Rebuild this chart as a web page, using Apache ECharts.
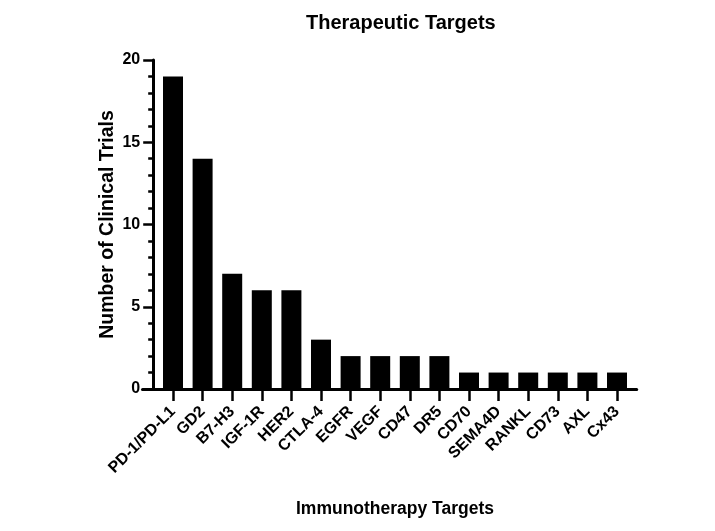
<!DOCTYPE html>
<html>
<head>
<meta charset="utf-8">
<script src="https://cdn.jsdelivr.net/npm/echarts@6/dist/echarts.min.js"></script>
<style>html,body{margin:0;padding:0;background:#fff;}#c{width:715px;height:531px;}</style>
</head>
<body>
<div id="c"></div>
<script>
const categories = ["PD-1/PD-L1","GD2","B7-H3","IGF-1R","HER2","CTLA-4","EGFR","VEGF","CD47","DR5","CD70","SEMA4D","RANKL","CD73","AXL","Cx43"];
const trials = [19,14,7,6,6,3,2,2,2,2,1,1,1,1,1,1];
const yTicks = [0,5,10,15,20];

const FONT = "'Liberation Sans', Arial, Helvetica, sans-serif";
const chart = echarts.init(document.getElementById('c'), null, {renderer:'canvas'});
chart.setOption({
  animation: false,
  backgroundColor: '#ffffff',
  title: {
    text: 'Therapeutic Targets',
    left: 301, top: 8,
    textStyle: {fontFamily: FONT, fontWeight: 'bold', fontSize: 20, color: '#000'}
  },
  grid: [
    {left: 158.2, right: 83.2, top: 60, bottom: 142, containLabel: false},
    {left: 142.5, right: 78.3, top: 60, bottom: 142, containLabel: false}
  ],
  xAxis: [
    {
      type: 'category', gridIndex: 0, data: categories,
      axisLine: {show: false},
      axisTick: {show: true, alignWithLabel: true, length: 12, lineStyle: {color: '#000', width: 2.5}},
      axisLabel: {rotate: 45, interval: 0, margin: 20, color: '#000', fontFamily: FONT, fontWeight: 'bold', fontSize: 16},
      name: 'Immunotherapy Targets', nameLocation: 'middle', nameGap: 111,
      nameTextStyle: {fontFamily: FONT, fontWeight: 'bold', fontSize: 17.5, color: '#000'}
    },
    {
      type: 'value', gridIndex: 1, min: 0, max: 1,
      axisLine: {show: true, lineStyle: {color: '#000', width: 3}},
      axisTick: {show: false}, axisLabel: {show: false}, splitLine: {show: false}
    }
  ],
  yAxis: [
    {
      type: 'value', gridIndex: 0, min: yTicks[0], max: yTicks[yTicks.length-1], interval: 5, offset: 5,
      axisLine: {show: true, lineStyle: {color: '#000', width: 3}},
      axisTick: {show: true, length: 10, lineStyle: {color: '#000', width: 2.5}},
      minorTick: {show: true, splitNumber: 5, length: 5, lineStyle: {color: '#000', width: 2.5}},
      splitLine: {show: false},
      axisLabel: {margin: 13, color: '#000', fontFamily: FONT, fontWeight: 'bold', fontSize: 16},
      name: 'Number of Clinical Trials', nameLocation: 'middle', nameGap: 36, nameMoveOverlap: false,
      nameTextStyle: {fontFamily: FONT, fontWeight: 'bold', fontSize: 19.5, color: '#000'}
    },
    {type: 'value', gridIndex: 1, show: false, min: 0, max: 1}
  ],
  series: [{
    type: 'bar', xAxisIndex: 0, yAxisIndex: 0, data: trials,
    barWidth: 20, itemStyle: {color: '#000'}
  }]
});
</script>
</body>
</html>
